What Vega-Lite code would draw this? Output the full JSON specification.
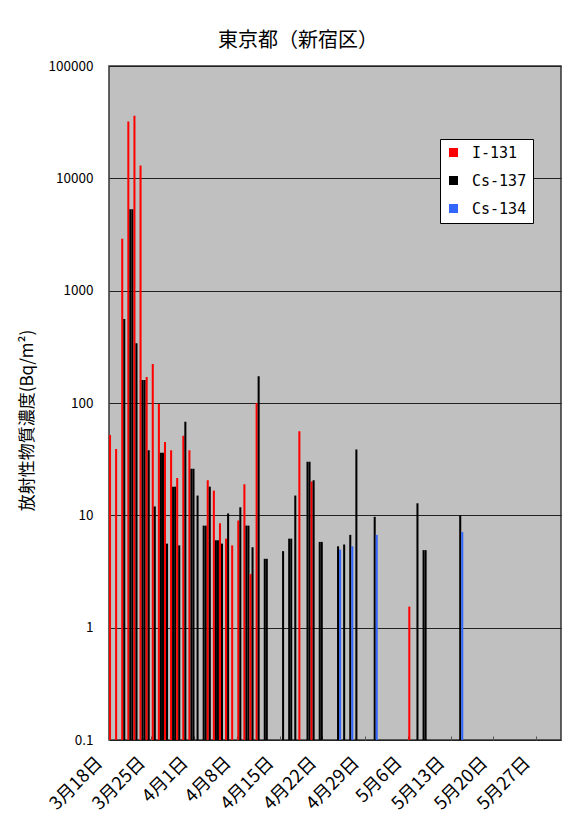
{
  "$schema": "https://vega.github.io/schema/vega-lite/v6.json",
  "autosize": {"type": "none"},
  "padding": {"left": 109, "top": 66, "right": 15, "bottom": 92},
  "width": 452,
  "height": 674,
  "background": "#ffffff",
  "title": {
    "text": "東京都（新宿区）",
    "font": "Noto Sans CJK JP",
    "fontSize": 20,
    "fontWeight": "normal",
    "color": "#000000",
    "anchor": "middle",
    "dx": -37,
    "offset": 8
  },
  "config": {
    "font": "Noto Sans CJK JP",
    "view": {"fill": "#c0c0c0", "stroke": "#333333", "strokeWidth": 1.5}
  },
  "data": {
    "values": [
      {"day": "3月18日", "nuclide": "I-131", "series": "I-131", "value": 52},
      {"day": "3月19日", "nuclide": "I-131", "series": "I-131", "value": 39},
      {"day": "3月20日", "nuclide": "I-131", "series": "I-131", "value": 2900},
      {"day": "3月20日", "nuclide": "Cs-137", "series": "Cs-137", "value": 560},
      {"day": "3月21日", "nuclide": "I-131", "series": "I-131", "value": 32000},
      {"day": "3月21日", "nuclide": "Cs-137", "series": "Cs-137", "value": 5300},
      {"day": "3月21日", "nuclide": "Cs-134", "series": "Cs-137", "value": 5300},
      {"day": "3月22日", "nuclide": "I-131", "series": "I-131", "value": 36000},
      {"day": "3月22日", "nuclide": "Cs-137", "series": "Cs-137", "value": 340},
      {"day": "3月23日", "nuclide": "I-131", "series": "I-131", "value": 13000},
      {"day": "3月23日", "nuclide": "Cs-137", "series": "Cs-137", "value": 160},
      {"day": "3月23日", "nuclide": "Cs-134", "series": "Cs-137", "value": 160},
      {"day": "3月24日", "nuclide": "I-131", "series": "I-131", "value": 170},
      {"day": "3月24日", "nuclide": "Cs-137", "series": "Cs-137", "value": 38},
      {"day": "3月25日", "nuclide": "I-131", "series": "I-131", "value": 222},
      {"day": "3月25日", "nuclide": "Cs-137", "series": "Cs-137", "value": 12},
      {"day": "3月26日", "nuclide": "I-131", "series": "I-131", "value": 98},
      {"day": "3月26日", "nuclide": "Cs-137", "series": "Cs-137", "value": 36},
      {"day": "3月26日", "nuclide": "Cs-134", "series": "Cs-137", "value": 36},
      {"day": "3月27日", "nuclide": "I-131", "series": "I-131", "value": 45},
      {"day": "3月27日", "nuclide": "Cs-137", "series": "Cs-137", "value": 5.6},
      {"day": "3月28日", "nuclide": "I-131", "series": "I-131", "value": 38},
      {"day": "3月28日", "nuclide": "Cs-137", "series": "Cs-137", "value": 18},
      {"day": "3月28日", "nuclide": "Cs-134", "series": "Cs-137", "value": 18},
      {"day": "3月29日", "nuclide": "I-131", "series": "I-131", "value": 21.5},
      {"day": "3月29日", "nuclide": "Cs-137", "series": "Cs-137", "value": 5.4},
      {"day": "3月30日", "nuclide": "I-131", "series": "I-131", "value": 51},
      {"day": "3月30日", "nuclide": "Cs-137", "series": "Cs-137", "value": 68},
      {"day": "3月31日", "nuclide": "I-131", "series": "I-131", "value": 38},
      {"day": "3月31日", "nuclide": "Cs-137", "series": "Cs-137", "value": 26},
      {"day": "3月31日", "nuclide": "Cs-134", "series": "Cs-137", "value": 26},
      {"day": "4月1日", "nuclide": "Cs-137", "series": "Cs-137", "value": 15},
      {"day": "4月2日", "nuclide": "Cs-137", "series": "Cs-137", "value": 8.1},
      {"day": "4月2日", "nuclide": "Cs-134", "series": "Cs-137", "value": 8.1},
      {"day": "4月3日", "nuclide": "I-131", "series": "I-131", "value": 20.5},
      {"day": "4月3日", "nuclide": "Cs-137", "series": "Cs-137", "value": 18},
      {"day": "4月4日", "nuclide": "I-131", "series": "I-131", "value": 16.6},
      {"day": "4月4日", "nuclide": "Cs-137", "series": "Cs-137", "value": 6},
      {"day": "4月4日", "nuclide": "Cs-134", "series": "Cs-137", "value": 6},
      {"day": "4月5日", "nuclide": "I-131", "series": "I-131", "value": 8.5},
      {"day": "4月5日", "nuclide": "Cs-137", "series": "Cs-137", "value": 5.6},
      {"day": "4月6日", "nuclide": "I-131", "series": "I-131", "value": 6.2},
      {"day": "4月6日", "nuclide": "Cs-137", "series": "Cs-137", "value": 10.4},
      {"day": "4月7日", "nuclide": "I-131", "series": "I-131", "value": 5.4},
      {"day": "4月8日", "nuclide": "I-131", "series": "I-131", "value": 9},
      {"day": "4月8日", "nuclide": "Cs-137", "series": "Cs-137", "value": 11.8},
      {"day": "4月9日", "nuclide": "I-131", "series": "I-131", "value": 18.9},
      {"day": "4月9日", "nuclide": "Cs-137", "series": "Cs-137", "value": 8.1},
      {"day": "4月9日", "nuclide": "Cs-134", "series": "Cs-137", "value": 8.1},
      {"day": "4月10日", "nuclide": "I-131", "series": "I-131", "value": 3},
      {"day": "4月10日", "nuclide": "Cs-137", "series": "Cs-137", "value": 5.2},
      {"day": "4月11日", "nuclide": "I-131", "series": "I-131", "value": 100},
      {"day": "4月11日", "nuclide": "Cs-137", "series": "Cs-137", "value": 173},
      {"day": "4月12日", "nuclide": "Cs-137", "series": "Cs-137", "value": 4.1},
      {"day": "4月12日", "nuclide": "Cs-134", "series": "Cs-137", "value": 4.1},
      {"day": "4月15日", "nuclide": "Cs-137", "series": "Cs-137", "value": 4.8},
      {"day": "4月16日", "nuclide": "Cs-137", "series": "Cs-137", "value": 6.2},
      {"day": "4月16日", "nuclide": "Cs-134", "series": "Cs-137", "value": 6.2},
      {"day": "4月17日", "nuclide": "Cs-137", "series": "Cs-137", "value": 15},
      {"day": "4月18日", "nuclide": "I-131", "series": "I-131", "value": 56},
      {"day": "4月19日", "nuclide": "Cs-137", "series": "Cs-137", "value": 30},
      {"day": "4月19日", "nuclide": "Cs-134", "series": "Cs-137", "value": 30},
      {"day": "4月20日", "nuclide": "I-131", "series": "I-131", "value": 20},
      {"day": "4月20日", "nuclide": "Cs-137", "series": "Cs-137", "value": 20.5},
      {"day": "4月21日", "nuclide": "Cs-137", "series": "Cs-137", "value": 5.8},
      {"day": "4月21日", "nuclide": "Cs-134", "series": "Cs-137", "value": 5.8},
      {"day": "4月24日", "nuclide": "Cs-137", "series": "Cs-137", "value": 5.3},
      {"day": "4月24日", "nuclide": "Cs-134", "series": "Cs-134", "value": 4.95},
      {"day": "4月25日", "nuclide": "Cs-137", "series": "Cs-137", "value": 5.5},
      {"day": "4月26日", "nuclide": "Cs-137", "series": "Cs-137", "value": 6.7},
      {"day": "4月26日", "nuclide": "Cs-134", "series": "Cs-134", "value": 5.3},
      {"day": "4月27日", "nuclide": "Cs-137", "series": "Cs-137", "value": 38.5},
      {"day": "4月30日", "nuclide": "Cs-137", "series": "Cs-137", "value": 9.7},
      {"day": "4月30日", "nuclide": "Cs-134", "series": "Cs-134", "value": 6.7},
      {"day": "5月6日", "nuclide": "I-131", "series": "I-131", "value": 1.54},
      {"day": "5月7日", "nuclide": "Cs-137", "series": "Cs-137", "value": 12.8},
      {"day": "5月8日", "nuclide": "Cs-137", "series": "Cs-137", "value": 4.9},
      {"day": "5月8日", "nuclide": "Cs-134", "series": "Cs-137", "value": 4.9},
      {"day": "5月14日", "nuclide": "Cs-137", "series": "Cs-137", "value": 10},
      {"day": "5月14日", "nuclide": "Cs-134", "series": "Cs-134", "value": 7.1}
    ]
  },
  "mark": {"type": "bar", "clip": true},
  "encoding": {
    "x": {
      "field": "day",
      "type": "ordinal",
      "scale": {
        "domain": ["3月18日","3月19日","3月20日","3月21日","3月22日","3月23日","3月24日","3月25日","3月26日","3月27日","3月28日","3月29日","3月30日","3月31日",
                   "4月1日","4月2日","4月3日","4月4日","4月5日","4月6日","4月7日","4月8日","4月9日","4月10日","4月11日","4月12日","4月13日","4月14日","4月15日","4月16日","4月17日","4月18日","4月19日","4月20日","4月21日","4月22日","4月23日","4月24日","4月25日","4月26日","4月27日","4月28日","4月29日","4月30日",
                   "5月1日","5月2日","5月3日","5月4日","5月5日","5月6日","5月7日","5月8日","5月9日","5月10日","5月11日","5月12日","5月13日","5月14日","5月15日","5月16日","5月17日","5月18日","5月19日","5月20日","5月21日","5月22日","5月23日","5月24日","5月25日","5月26日","5月27日","5月28日","5月29日","5月30日"],
        "paddingInner": 0,
        "paddingOuter": 0
      },
      "axis": {
        "title": null,
        "values": ["3月18日","3月25日","4月1日","4月8日","4月15日","4月22日","4月29日","5月6日","5月13日","5月20日","5月27日"],
        "bandPosition": 0,
        "labelAngle": -45,
        "labelAlign": "right",
        "labelBaseline": "middle",
        "labelFontSize": 18,
        "labelColor": "#000000",
        "labelPadding": 24,
        "labelOffset": -12,
        "tickSize": -4,
        "tickColor": "#555555",
        "domain": false,
        "grid": false
      }
    },
    "xOffset": {
      "field": "nuclide",
      "type": "nominal",
      "scale": {"domain": ["I-131", "Cs-137", "Cs-134"], "paddingInner": 0, "paddingOuter": 0}
    },
    "y": {
      "field": "value",
      "type": "quantitative",
      "stack": null,
      "scale": {"type": "log", "domain": [0.1, 100000], "nice": false},
      "axis": {
        "title": "放射性物質濃度(Bq/m²)",
        "titleFontSize": 17,
        "titleFontWeight": "normal",
        "titleColor": "#000000",
        "titleX": -73,
        "titleY": 354,
        "values": [0.1, 1, 10, 100, 1000, 10000, 100000],
        "labelExpr": "datum.value < 1 ? '0.1' : format(datum.value, 'd')",
        "labelFontSize": 13.5,
        "labelColor": "#000000",
        "labelPadding": 16,
        "ticks": false,
        "domain": false,
        "grid": true,
        "gridColor": "#222222",
        "gridWidth": 1.2
      }
    },
    "y2": {"datum": 0.1},
    "color": {
      "field": "series",
      "type": "nominal",
      "scale": {"domain": ["I-131", "Cs-137", "Cs-134"], "range": ["#ff0000", "#000000", "#3366ff"]},
      "legend": {
        "title": null,
        "orient": "none",
        "legendX": 331,
        "legendY": 73,
        "symbolType": "square",
        "symbolSize": 81,
        "symbolStrokeWidth": 0,
        "labelFont": "DejaVu Sans Mono",
        "labelFontSize": 15,
        "labelColor": "#000000",
        "fillColor": "#ffffff",
        "strokeColor": "#000000",
        "padding": 6,
        "rowPadding": 12,
        "labelOffset": 11
      }
    }
  }
}
